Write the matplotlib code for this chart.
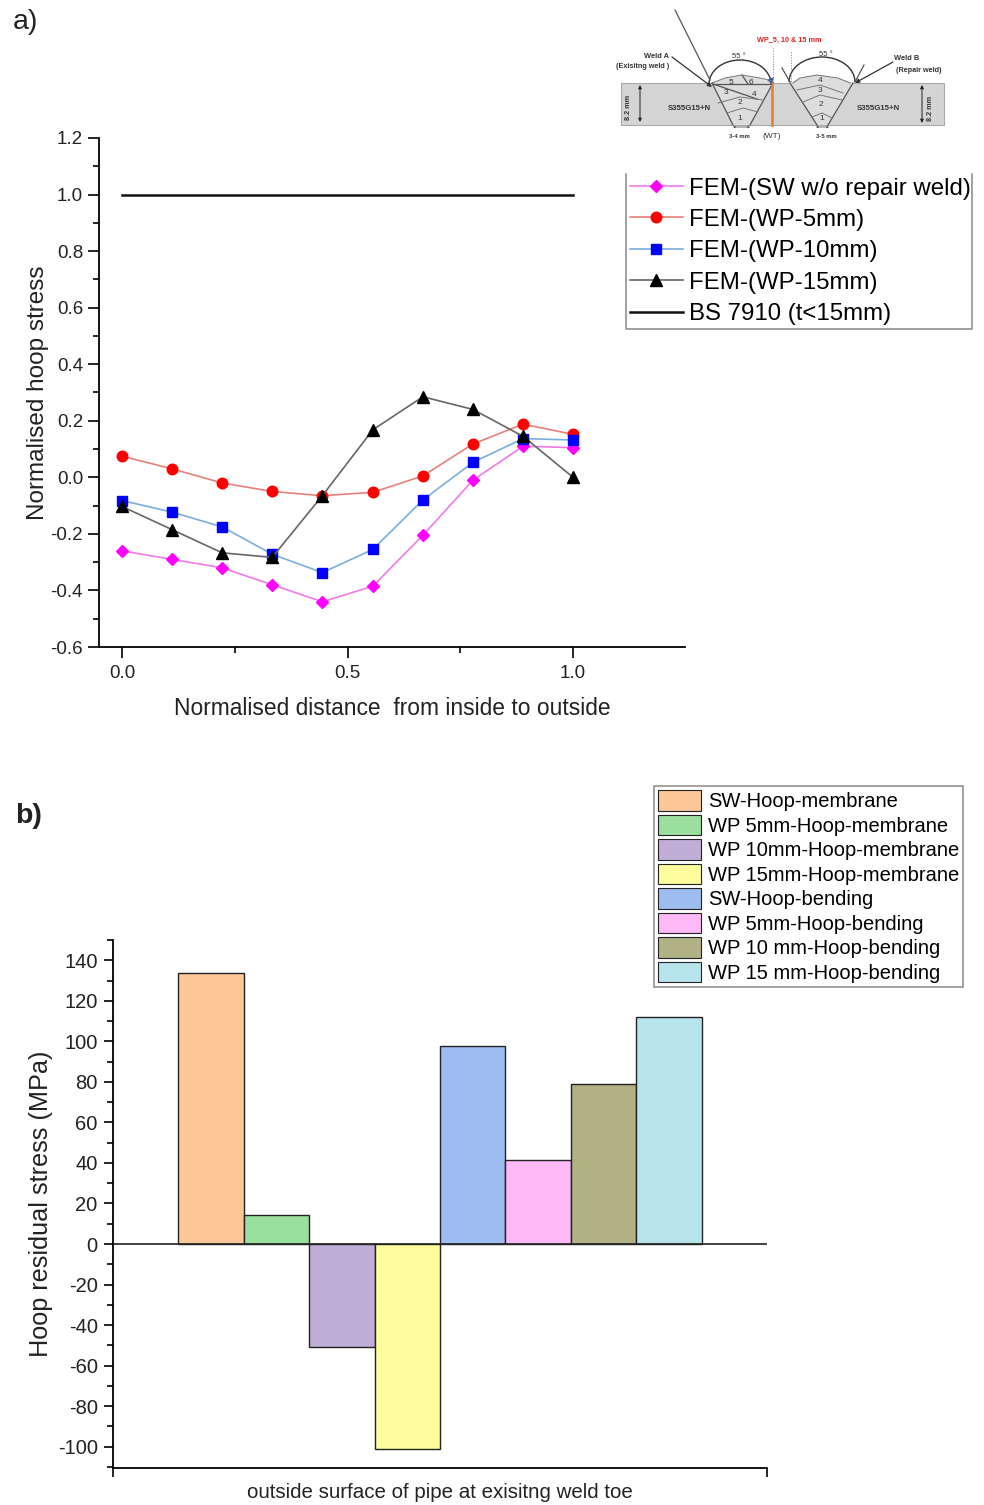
import matplotlib
matplotlib.use('Agg')
import matplotlib.pyplot as plt
from matplotlib.patches import Arc, Patch, Polygon, Rectangle
from matplotlib.ticker import MultipleLocator

plt.rcParams['font.family'] = ['Liberation Sans', 'DejaVu Sans']
plt.rcParams['axes.unicode_minus'] = False

W, H = 984, 1505

# panel a
distance = [0.0, 0.111, 0.222, 0.333, 0.444, 0.556, 0.667, 0.778, 0.889, 1.0]
sw_no_repair = [-0.26, -0.29, -0.32, -0.38, -0.44, -0.385, -0.205, -0.01, 0.11, 0.105]
wp_5 = [0.075, 0.03, -0.02, -0.05, -0.065, -0.053, 0.005, 0.118, 0.188, 0.152]
wp_10 = [-0.082, -0.123, -0.175, -0.272, -0.337, -0.255, -0.08, 0.053, 0.137, 0.132]
wp_15 = [-0.103, -0.185, -0.267, -0.283, -0.065, 0.168, 0.285, 0.24, 0.145, 0.0]
bs7910_x = [0.0, 1.0]
bs7910_y = [1.0, 1.0]

# panel b
bar_labels = ['SW-Hoop-membrane', 'WP 5mm-Hoop-membrane', 'WP 10mm-Hoop-membrane',
              'WP 15mm-Hoop-membrane', 'SW-Hoop-bending', 'WP 5mm-Hoop-bending',
              'WP 10 mm-Hoop-bending', 'WP 15 mm-Hoop-bending']
bar_values = [133.5, 14.5, -51, -101, 97.5, 41.5, 79, 112]
bar_colors = ['#fdc797', '#9bdf9e', '#c0aed6', '#fdfd9d',
              '#9dbcf0', '#fdb8f6', '#b0b184', '#b7e3ea']


def ax_px(fig, left, top, right, bottom):
    return fig.add_axes([left / W, 1 - bottom / H, (right - left) / W, (bottom - top) / H])


fig = plt.figure(figsize=(W / 100, H / 100), dpi=100)

# ---- a) line chart
ax1 = ax_px(fig, 99, 138, 685, 647)
series = [
    (sw_no_repair, '#f07ae8', '#ff00ff', 'D', 6.2, 'FEM-(SW w/o repair weld)'),
    (wp_5, '#e8807a', '#ff0000', 'o', 7.6, 'FEM-(WP-5mm)'),
    (wp_10, '#7aaedc', '#0000ff', 's', 6.8, 'FEM-(WP-10mm)'),
    (wp_15, '#666666', '#000000', '^', 8.8, 'FEM-(WP-15mm)'),
]
for vals, lc, mc, mk, ms, lab in series:
    ax1.plot(distance, vals, color=lc, lw=1.2, marker=mk, ms=ms, mfc=mc, mec=mc, label=lab)
ax1.plot(bs7910_x, bs7910_y, color='#111111', lw=1.8, label='BS 7910 (t<15mm)')
ax1.set_xlim(-0.051, 1.248)
ax1.set_ylim(-0.6, 1.2)
ax1.set_xticks([0, 0.5, 1.0])
ax1.xaxis.set_minor_locator(MultipleLocator(0.25))
ax1.yaxis.set_major_locator(MultipleLocator(0.2))
ax1.yaxis.set_minor_locator(MultipleLocator(0.1))
ax1.set_xlabel('Normalised distance  from inside to outside', fontsize=16.4, color='#222222', labelpad=11)
ax1.set_ylabel('Normalised hoop stress', fontsize=17.5, color='#222222')
ax1.yaxis.set_label_coords(-0.085, 0.5)
ax1.spines[['top', 'right']].set_visible(False)
ax1.spines[['left', 'bottom']].set_linewidth(1.3)
ax1.tick_params(which='major', length=8, width=1.2, labelsize=13.5, labelcolor='#222222')
ax1.tick_params(axis='x', which='major', pad=5)
ax1.tick_params(which='minor', length=4.5, width=1.2)
handles, labels = ax1.get_legend_handles_labels()
fig.legend(handles, labels, loc='upper left', bbox_to_anchor=(630 / W, 1 - 177.5 / H),
           fontsize=17.3, frameon=False, handlelength=2.2, handletextpad=0.25,
           labelspacing=0.39, borderpad=0, borderaxespad=0)

# ---- b) bar chart
ax2 = ax_px(fig, 113, 940, 767, 1468)
positions = list(range(len(bar_values)))
ax2.bar(positions, bar_values, width=1.0, color=bar_colors, edgecolor='#222222', linewidth=1.0)
ax2.axhline(0, color='#222222', lw=1.2)
ax2.set_xlim(-1.5, 8.5)
ax2.set_ylim(-110.5, 150)
ax2.set_xticks([-1.5, 8.5])
ax2.set_xticklabels([])
ax2.yaxis.set_major_locator(MultipleLocator(20))
ax2.yaxis.set_minor_locator(MultipleLocator(10))
ax2.set_xlabel('outside surface of pipe at exisitng weld toe', fontsize=14.8, color='#222222', labelpad=0)
ax2.set_ylabel('Hoop residual stress (MPa)', fontsize=18.2, color='#222222')
ax2.yaxis.set_label_coords(-0.092, 0.5)
ax2.spines[['top', 'right']].set_visible(False)
ax2.spines[['left', 'bottom']].set_linewidth(1.3)
ax2.tick_params(which='major', length=6.5, width=1.2, labelsize=14.5, labelcolor='#222222', pad=4.5)
ax2.tick_params(which='minor', length=4, width=1.2)
bar_handles = [Patch(facecolor=c, edgecolor='#222222', linewidth=0.8) for c in bar_colors]
leg2 = fig.legend(bar_handles, bar_labels, loc='upper left', bbox_to_anchor=(654 / W, 1 - 786 / H),
                  fontsize=14.5, frameon=True, fancybox=False, edgecolor='#888888', framealpha=1,
                  handlelength=2.14, handleheight=1.2, handletextpad=0.35, labelspacing=0.17,
                  borderpad=0.2, borderaxespad=0)
leg2.get_frame().set_linewidth(1.1)

# panel letters
fig.text(13 / W, 1 - 22 / H, 'a)', fontsize=20.5, color='#222222', va='center')
fig.text(15 / W, 1 - 816 / H, 'b)', fontsize=20.5, fontweight='bold', color='#222222', va='center')

# ---- weld sketch and legend frame, drawn in picture pixels
sk = fig.add_axes([0, 0, 1, 1], zorder=5)
sk.set_xlim(0, W)
sk.set_ylim(H, 0)
sk.axis('off')
sk.patch.set_alpha(0)

# legend a has no top edge in the original
sk.plot([626, 626, 972, 972], [174, 329, 329, 174], color='#888888', lw=1.1)

gc = '#555555'
sk.add_patch(Rectangle((621, 83), 323, 42, fc='#d4d4d4', ec='#aaaaaa', lw=0.8))
sk.add_patch(Polygon([(712, 83), (725, 78), (742, 75), (760, 78), (773, 83), (750, 125), (733, 125)],
                     fc='#dddddd', ec='none'))
sk.add_patch(Polygon([(790, 83), (800, 78), (817, 75), (838, 78), (853, 83), (828, 125), (817, 125)],
                     fc='#dddddd', ec='none'))
for xs, ys in [([712, 733], [83, 125]), ([773, 750], [83, 125]),
               ([790, 817], [83, 125]), ([853, 828], [83, 125]),
               ([675, 710], [10, 80]), ([782, 790], [68, 82]), ([864, 855], [65, 82]),
               ([712, 772], [84, 84]), ([713, 757], [84, 99]), ([742, 748], [75, 84])]:
    sk.plot(xs, ys, color=gc, lw=0.9)
for xs, ys in [([712, 725, 742, 760, 773], [83, 78, 75, 78, 81]),
               ([718, 740, 763], [103, 97, 100]), ([727, 743, 758], [113, 108, 112]),
               ([793, 800, 817, 838, 850], [83, 78, 75, 78, 83]),
               ([797, 820, 843], [90, 85, 93]), ([803, 820, 842], [102, 95, 100]),
               ([812, 822, 832], [117, 113, 118])]:
    sk.plot(xs, ys, color='#777777', lw=0.7)
sk.add_patch(Arc((740, 84), 62, 48, theta1=180, theta2=360, color='#333333', lw=1.0))
sk.add_patch(Arc((822, 82), 66, 50, theta1=180, theta2=360, color='#333333', lw=1.0))
sk.plot([772, 772], [84, 125], color='#e08030', lw=1.8)
sk.plot([773, 773], [48, 84], color='#e05050', lw=0.7, ls=':')
sk.plot([791, 791], [52, 82], color='#e05050', lw=0.7, ls=':')
sk.add_patch(Polygon([(767, 80), (774, 77), (772, 84)], fc='#3355aa', ec='none'))
for xy, xytext in [((712, 87), (672, 57)), ((855, 83), (893, 62))]:
    sk.annotate('', xy=xy, xytext=xytext, arrowprops=dict(arrowstyle='-|>', color='#333333', lw=0.9,
                                                          mutation_scale=6, shrinkA=0, shrinkB=0))
for x, y0, y1 in [(640, 85, 122), (922, 85, 123)]:
    sk.annotate('', xy=(x, y0), xytext=(x, y1), arrowprops=dict(arrowstyle='<|-|>', color='#222222', lw=0.7,
                                                                mutation_scale=5, shrinkA=0, shrinkB=0))
for x0, x1, y in [(733, 750, 127), (816, 829, 127)]:
    sk.annotate('', xy=(x0, y), xytext=(x1, y), arrowprops=dict(arrowstyle='<->', color='#333333', lw=0.5,
                                                                mutation_scale=3, shrinkA=0, shrinkB=0))
small = [(789, 40, 'WP_5, 10 & 15 mm', 5.2, '#dd2222', 'bold', 0),
         (656, 57, 'Weld A', 5.4, '#333333', 'bold', 0),
         (643, 67, '(Exisitng weld )', 5.2, '#333333', 'bold', 0),
         (907, 58, 'Weld B', 5.4, '#333333', 'bold', 0),
         (919, 71, '(Repair weld)', 5.2, '#333333', 'bold', 0),
         (739, 56, '55 °', 5.5, '#333333', 'normal', 0),
         (826, 55, '55 °', 5.5, '#333333', 'normal', 0),
         (689, 108, 'S355G15+N', 5.6, '#333333', 'bold', 0),
         (878, 108, 'S355G15+N', 5.6, '#333333', 'bold', 0),
         (628, 107, '8.2 mm', 5.2, '#333333', 'bold', 90),
         (930, 108, '8.2 mm', 5.2, '#333333', 'bold', 90),
         (739, 136, '3-4 mm', 4.2, '#333333', 'bold', 0),
         (826, 136, '3-5 mm', 4.2, '#333333', 'bold', 0),
         (772, 137, '(WT)', 6, '#333333', 'normal', 0)]
for x, y, s, fs, c, fw, rot in small:
    sk.text(x, y, s, fontsize=fs, color=c, fontweight=fw, rotation=rot, ha='center', va='center')
numbers = [(731, 82, '5'), (751, 82, '6'), (726, 93, '3'), (754, 94, '4'), (740, 103, '2'), (740, 118, '1'),
           (820, 81, '4'), (820, 91, '3'), (821, 104, '2'), (822, 118, '1')]
for x, y, s in numbers:
    sk.text(x, y, s, fontsize=6, color='#333333', ha='center', va='center')

fig.savefig('out.png', dpi=100)
